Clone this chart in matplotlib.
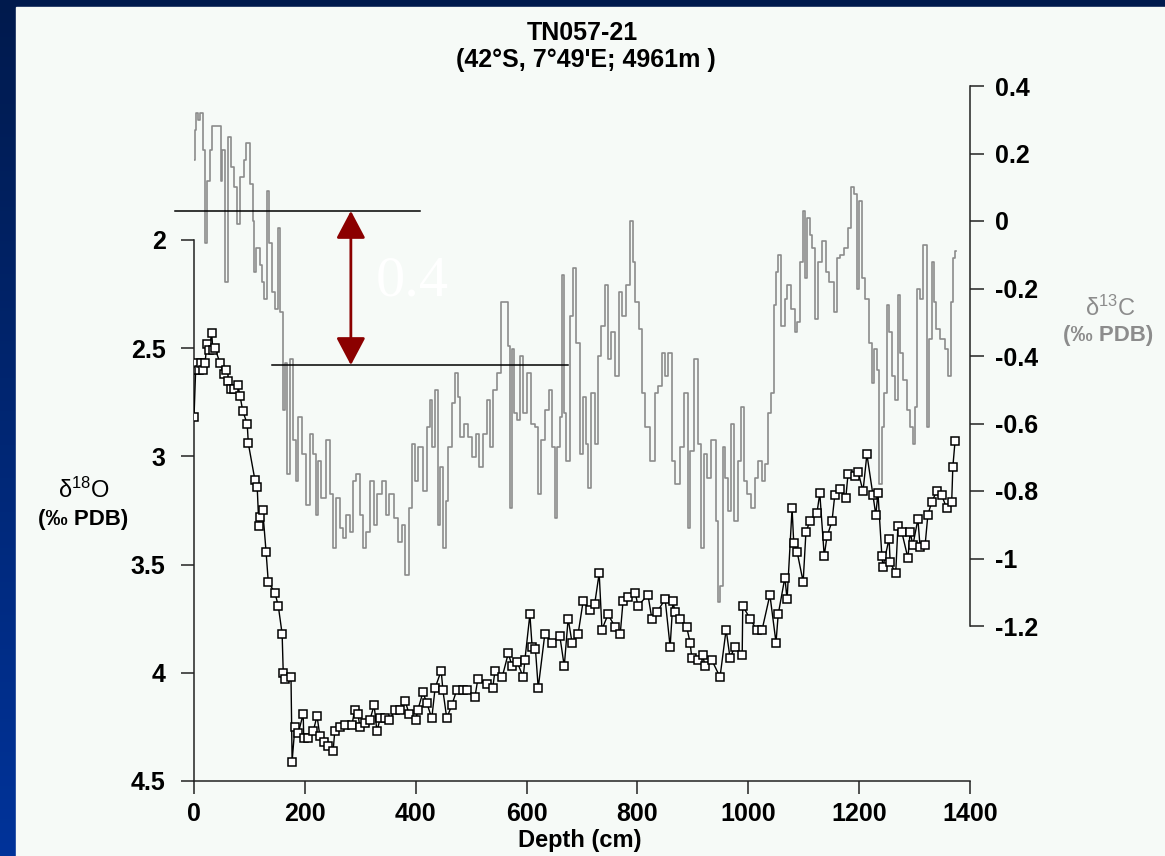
import numpy as np
import matplotlib.pyplot as plt
from matplotlib.patches import Rectangle
from matplotlib.colors import LinearSegmentedColormap

plt.rcParams['font.family'] = ['Liberation Sans', 'DejaVu Sans']
plt.rcParams['mathtext.default'] = 'regular'

# d18O (black, open squares), depth in cm
d18_depth = [0, 3, 5, 9, 13, 16, 20, 23, 27, 32, 34, 38, 47, 54, 58, 61, 67, 72, 79, 83,
             88, 96, 98, 110, 114, 117, 119, 124, 130, 134, 146, 152, 159, 161, 164, 175, 177, 182, 188, 197,
             198, 206, 215, 222, 227, 235, 242, 251, 254, 263, 272, 285, 290, 296, 299, 308, 317, 325, 330, 336,
             345, 352, 363, 372, 381, 388, 400, 404, 413, 420, 429, 435, 446, 449, 456, 465, 474, 485, 492, 507,
             512, 529, 539, 543, 556, 567, 574, 583, 594, 597, 606, 610, 616, 621, 633, 646, 660, 668, 675, 682,
             693, 702, 714, 723, 731, 736, 747, 760, 769, 774, 783, 796, 801, 819, 826, 835, 850, 859, 864, 868,
             877, 889, 895, 898, 909, 918, 922, 934, 949, 960, 967, 976, 989, 990, 1003, 1015, 1025, 1039, 1050, 1054,
             1066, 1070, 1079, 1082, 1088, 1099, 1104, 1111, 1124, 1129, 1137, 1142, 1151, 1156, 1165, 1176, 1180, 1193, 1198, 1207,
             1214, 1225, 1230, 1234, 1241, 1243, 1254, 1256, 1266, 1270, 1277, 1288, 1292, 1297, 1306, 1310, 1319, 1324, 1331, 1340,
             1349, 1358, 1367, 1369, 1373]
d18_val = [2.82, 2.60, 2.57, 2.60, 2.57, 2.60, 2.57, 2.48, 2.51, 2.43, 2.51, 2.50, 2.57, 2.62, 2.60, 2.65, 2.69, 2.69, 2.67, 2.72,
           2.79, 2.85, 2.94, 3.11, 3.14, 3.32, 3.28, 3.25, 3.44, 3.58, 3.63, 3.69, 3.82, 4.00, 4.03, 4.02, 4.41, 4.25, 4.28, 4.19,
           4.30, 4.30, 4.27, 4.20, 4.29, 4.32, 4.34, 4.36, 4.27, 4.25, 4.24, 4.24, 4.17, 4.19, 4.25, 4.23, 4.22, 4.15, 4.27, 4.21,
           4.21, 4.22, 4.17, 4.17, 4.13, 4.19, 4.22, 4.17, 4.09, 4.14, 4.21, 4.07, 3.99, 4.08, 4.21, 4.15, 4.08, 4.08, 4.08, 4.11,
           4.03, 4.05, 4.07, 3.99, 4.02, 3.91, 3.97, 3.95, 4.02, 3.94, 3.73, 3.88, 3.89, 4.07, 3.82, 3.86, 3.83, 3.97, 3.75, 3.86,
           3.82, 3.67, 3.71, 3.68, 3.54, 3.80, 3.73, 3.79, 3.82, 3.67, 3.65, 3.63, 3.69, 3.64, 3.75, 3.72, 3.66, 3.88, 3.67, 3.72,
           3.75, 3.79, 3.86, 3.93, 3.94, 3.92, 3.97, 3.94, 4.02, 3.80, 3.93, 3.88, 3.92, 3.69, 3.75, 3.80, 3.80, 3.64, 3.86, 3.73,
           3.56, 3.66, 3.24, 3.40, 3.44, 3.58, 3.35, 3.30, 3.26, 3.17, 3.46, 3.37, 3.30, 3.18, 3.15, 3.19, 3.08, 3.09, 3.07, 3.16,
           2.99, 3.18, 3.27, 3.17, 3.46, 3.51, 3.38, 3.49, 3.54, 3.32, 3.35, 3.47, 3.35, 3.41, 3.29, 3.42, 3.41, 3.27, 3.21, 3.16,
           3.18, 3.24, 3.21, 3.05, 2.93]

# d13C (grey step line)
d13_depth = [0, 2, 5, 9, 12, 16, 18, 22, 25, 31, 34, 47, 50, 52, 60, 63, 69, 76, 79, 87,
             92, 97, 105, 108, 110, 115, 123, 124, 130, 132, 137, 143, 150, 153, 159, 161, 166, 170, 177, 182,
             186, 191, 198, 206, 213, 218, 222, 227, 233, 242, 249, 254, 260, 267, 272, 278, 285, 290, 296, 303,
             308, 314, 321, 327, 334, 343, 348, 357, 364, 372, 377, 384, 390, 395, 402, 408, 417, 422, 428, 431,
             437, 442, 447, 453, 456, 462, 469, 474, 478, 483, 491, 498, 505, 511, 519, 525, 531, 537, 543, 550,
             557, 564, 568, 571, 575, 579, 585, 591, 597, 605, 612, 618, 623, 629, 636, 644, 648, 653, 657, 663,
             666, 669, 675, 681, 687, 693, 700, 704, 709, 714, 720, 727, 732, 738, 745, 750, 756, 763, 769, 774,
             783, 790, 794, 799, 805, 810, 819, 828, 835, 841, 846, 853, 859, 864, 873, 880, 888, 893, 898, 907,
             911, 918, 922, 929, 938, 944, 947, 952, 956, 961, 967, 972, 978, 985, 990, 994, 1001, 1008, 1015, 1021,
             1028, 1034, 1037, 1044, 1048, 1052, 1055, 1063, 1068, 1073, 1081, 1086, 1090, 1097, 1099, 1104, 1108, 1113, 1117, 1124,
             1129, 1137, 1142, 1151, 1158, 1162, 1169, 1178, 1183, 1189, 1193, 1198, 1203, 1207, 1214, 1220, 1225, 1229, 1234, 1239,
             1243, 1248, 1252, 1257, 1261, 1268, 1272, 1277, 1283, 1288, 1294, 1299, 1304, 1306, 1313, 1319, 1322, 1324, 1329, 1333,
             1337, 1342, 1351, 1358, 1362, 1368, 1371, 1375]
d13_val = [0.18, 0.27, 0.32, 0.30, 0.32, 0.32, 0.21, -0.065, 0.12, 0.21, 0.28, 0.28, 0.12, 0.21, -0.18, 0.25, 0.16, 0.10, -0.01, 0.13,
           0.18, 0.23, 0.11, 0.0, -0.15, -0.08, -0.13, -0.18, -0.23, 0.09, -0.065, -0.21, -0.26, -0.02, -0.27, -0.56, -0.42, -0.75, -0.41, -0.65,
           -0.77, -0.58, -0.69, -0.84, -0.63, -0.69, -0.87, -0.71, -0.82, -0.65, -0.81, -0.97, -0.82, -0.91, -0.94, -0.87, -0.92, -0.77, -0.75, -0.87,
           -0.97, -0.92, -0.77, -0.90, -0.81, -0.77, -0.87, -0.81, -0.88, -0.95, -0.90, -1.05, -0.85, -0.66, -0.77, -0.67, -0.80, -0.61, -0.53, -0.67,
           -0.50, -0.90, -0.73, -0.97, -0.83, -0.67, -0.54, -0.45, -0.52, -0.64, -0.60, -0.64, -0.70, -0.63, -0.73, -0.63, -0.53, -0.67, -0.50, -0.45,
           -0.24, -0.24, -0.37, -0.85, -0.38, -0.57, -0.59, -0.40, -0.57, -0.45, -0.60, -0.61, -0.81, -0.65, -0.56, -0.50, -0.67, -0.88, -0.67, -0.58,
           -0.16, -0.57, -0.71, -0.28, -0.14, -0.36, -0.69, -0.52, -0.66, -0.79, -0.51, -0.66, -0.40, -0.31, -0.19, -0.41, -0.33, -0.46, -0.21, -0.28,
           -0.19, 0.00, -0.12, -0.24, -0.32, -0.51, -0.61, -0.71, -0.51, -0.49, -0.39, -0.46, -0.39, -0.71, -0.78, -0.67, -0.51, -0.91, -0.68, -0.41,
           -0.66, -0.97, -0.69, -0.76, -0.65, -0.89, -1.13, -1.08, -0.67, -0.76, -0.86, -0.60, -0.89, -0.71, -0.55, -0.77, -0.81, -0.85, -0.76, -0.71,
           -0.77, -0.72, -0.57, -0.51, -0.25, -0.15, -0.10, -0.31, -0.23, -0.19, -0.26, -0.33, -0.30, -0.12, 0.03, -0.17, 0.01, -0.04, -0.08, -0.29,
           -0.12, -0.06, -0.15, -0.18, -0.27, -0.11, -0.10, -0.08, -0.02, 0.10, 0.08, -0.20, 0.06, -0.17, -0.23, -0.36, -0.48, -0.38, -0.44, -0.78,
           -0.61, -0.51, -0.25, -0.33, -0.46, -0.53, -0.22, -0.39, -0.47, -0.56, -0.61, -0.66, -0.55, -0.20, -0.23, -0.07, -0.07, -0.61, -0.35, -0.12,
           -0.24, -0.32, -0.35, -0.38, -0.46, -0.24, -0.11, -0.09]

d18_ticks = [2, 2.5, 3, 3.5, 4, 4.5]
d18_labels = ["2", "2.5", "3", "3.5", "4", "4.5"]
d13_ticks = [-1.2, -1.0, -0.8, -0.6, -0.4, -0.2, 0.0, 0.2, 0.4]
d13_labels = ["-1.2", "-1", "-0.8", "-0.6", "-0.4", "-0.2", "0", "0.2", "0.4"]
depth_ticks = [0, 200, 400, 600, 800, 1000, 1200, 1400]

W, H = 1165, 856
fig = plt.figure(figsize=(W / 100, H / 100), dpi=100)

# slide background: dark blue gradient with a light panel
bg = fig.add_axes([0, 0, 1, 1])
grad = np.linspace(0, 1, 256).reshape(-1, 1)
cmap = LinearSegmentedColormap.from_list("slide", ["#001a4d", "#00339a"])
bg.imshow(grad, aspect="auto", cmap=cmap, extent=[0, 1, 0, 1], origin="upper")
bg.add_patch(Rectangle((16 / W, 0), 1, 1 - 7 / H, color="#f6faf7", zorder=2))
bg.set_xlim(0, 1)
bg.set_ylim(0, 1)
bg.axis("off")

def px_axes(x0, y0, x1, y1):
    return [x0 / W, 1 - y1 / H, (x1 - x0) / W, (y1 - y0) / H]

ax1 = fig.add_axes(px_axes(194, 240, 970, 781))
ax2 = fig.add_axes(px_axes(194, 86, 970, 626))
for a in (ax1, ax2):
    a.patch.set_visible(False)
    a.set_xlim(0, 1400)

ax1.plot(d18_depth, d18_val, color="black", lw=1.0, marker="s", ms=5.5,
         mfc="white", mec="black", mew=1.1, zorder=3)
ax1.set_ylim(4.5, 2)
ax1.set_yticks(d18_ticks)
ax1.set_yticklabels(d18_labels)
ax1.set_xticks(depth_ticks)
for s in ("top", "right"):
    ax1.spines[s].set_visible(False)
for s in ("left", "bottom"):
    ax1.spines[s].set_linewidth(1.1)
    ax1.spines[s].set_color("#222222")
ax1.tick_params(axis="y", direction="out", length=9.5, width=1.1, pad=11,
                labelsize=18, color="#222222")
ax1.tick_params(axis="x", direction="out", length=9, width=1.1, pad=6,
                labelsize=18, color="#222222")
for lab in ax1.get_xticklabels() + ax1.get_yticklabels():
    lab.set_fontweight("bold")

ax2.plot(d13_depth, d13_val, color="#8c8c8c", lw=1.2, drawstyle="steps-mid", zorder=2)
ax2.set_ylim(-1.2, 0.4)
ax2.set_yticks(d13_ticks)
ax2.set_yticklabels(d13_labels)
ax2.yaxis.tick_right()
ax2.xaxis.set_visible(False)
for s in ("top", "left", "bottom"):
    ax2.spines[s].set_visible(False)
ax2.spines["right"].set_linewidth(1.1)
ax2.spines["right"].set_color("#222222")
ax2.tick_params(axis="y", direction="out", length=10, width=1.1, pad=8,
                labelsize=18, color="#222222")
for lab in ax2.get_yticklabels():
    lab.set_fontweight("bold")

# reference lines and 0.4 arrow (in d13C units)
ax2.plot([-34, 408], [0.03, 0.03], color="black", lw=1.1, clip_on=False, zorder=4)
ax2.plot([141, 675], [-0.427, -0.427], color="black", lw=1.1, clip_on=False, zorder=4)
ax2.annotate("", xy=(283, 0.03), xytext=(283, -0.427),
             arrowprops=dict(arrowstyle="<|-|>,head_length=0.85,head_width=0.45",
                             color="#8b0000", lw=2, mutation_scale=20,
                             shrinkA=0, shrinkB=0), zorder=5)
ax2.text(393, -0.18, "0.4", color="white", fontsize=42, family="Liberation Serif",
         ha="center", va="center", zorder=5)

# titles and labels
fig.text(582 / W, 1 - 33 / H, "TN057-21", ha="center", va="center",
         fontsize=18, fontweight="bold")
fig.text(586 / W, 1 - 60 / H, "(42°S, 7°49'E; 4961m )", ha="center", va="center",
         fontsize=18, fontweight="bold")
fig.text(580 / W, 1 - 840 / H, "Depth (cm)", ha="center", va="center",
         fontsize=17, fontweight="bold")
fig.text(84 / W, 1 - 490 / H, r"δ$^{18}$O", ha="center", va="center", fontsize=17)
fig.text(83 / W, 1 - 519 / H, "(‰ PDB)", ha="center", va="center",
         fontsize=16, fontweight="bold")
fig.text(1110 / W, 1 - 308 / H, r"δ$^{13}$C", ha="center", va="center",
         fontsize=17, color="#8c8c8c")
fig.text(1108 / W, 1 - 336 / H, "(‰ PDB)", ha="center", va="center",
         fontsize=16, fontweight="bold", color="#8c8c8c")

fig.savefig("out.png", dpi=100)
